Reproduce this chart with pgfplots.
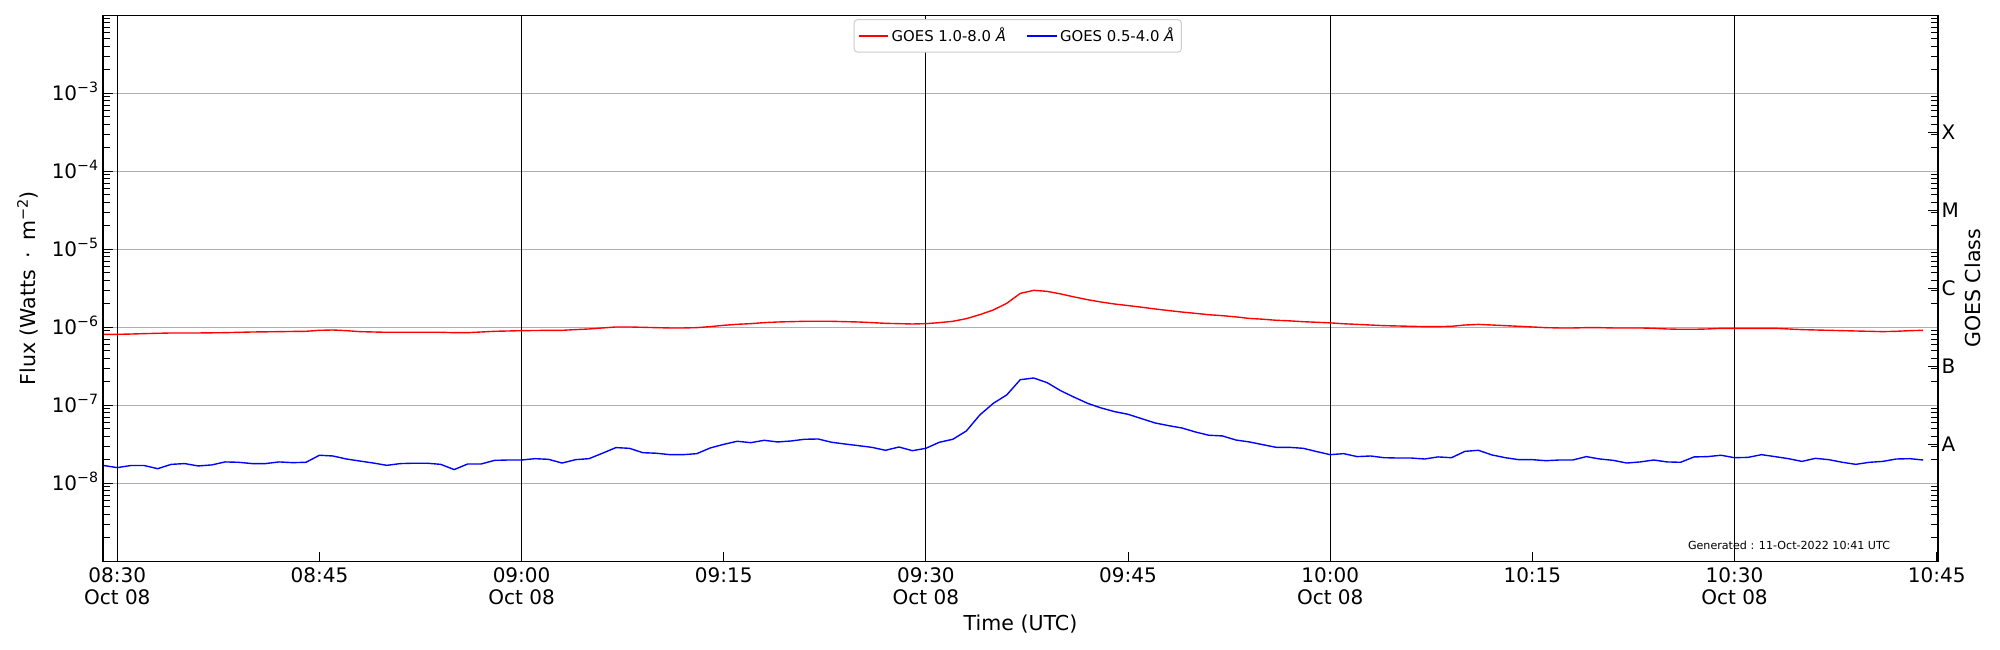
\documentclass[border=0pt]{standalone}
\usepackage{fontspec}
\setmainfont{DejaVu Sans}
\usepackage{pgfplots}
\pgfplotsset{compat=1.18}
\usepackage{pgfplotstable}

\pgfplotstableread{
t long short
-1 8.13e-7 1.69e-8
0 8.13e-7 1.59e-8
1 8.20e-7 1.69e-8
2 8.30e-7 1.69e-8
3 8.38e-7 1.54e-8
4 8.46e-7 1.75e-8
5 8.46e-7 1.79e-8
6 8.46e-7 1.67e-8
7 8.50e-7 1.72e-8
8 8.54e-7 1.88e-8
9 8.62e-7 1.86e-8
10 8.71e-7 1.79e-8
11 8.75e-7 1.79e-8
12 8.80e-7 1.88e-8
13 8.85e-7 1.84e-8
14 8.89e-7 1.86e-8
15 9.15e-7 2.29e-8
16 9.24e-7 2.24e-8
17 9.06e-7 2.05e-8
18 8.80e-7 1.93e-8
19 8.71e-7 1.82e-8
20 8.63e-7 1.70e-8
21 8.63e-7 1.79e-8
22 8.63e-7 1.81e-8
23 8.63e-7 1.81e-8
24 8.63e-7 1.75e-8
25 8.54e-7 1.50e-8
26 8.54e-7 1.77e-8
27 8.71e-7 1.77e-8
28 8.89e-7 1.97e-8
29 8.97e-7 1.99e-8
30 9.06e-7 1.99e-8
31 9.10e-7 2.07e-8
32 9.15e-7 2.03e-8
33 9.15e-7 1.82e-8
34 9.34e-7 2.01e-8
35 9.52e-7 2.07e-8
36 9.81e-7 2.43e-8
37 1.010e-6 2.87e-8
38 1.010e-6 2.81e-8
39 1.000e-6 2.47e-8
40 9.90e-7 2.43e-8
41 9.81e-7 2.33e-8
42 9.81e-7 2.33e-8
43 9.90e-7 2.40e-8
44 1.020e-6 2.84e-8
45 1.061e-6 3.16e-8
46 1.093e-6 3.46e-8
47 1.114e-6 3.32e-8
48 1.148e-6 3.56e-8
49 1.170e-6 3.39e-8
50 1.182e-6 3.49e-8
51 1.194e-6 3.67e-8
52 1.194e-6 3.70e-8
53 1.194e-6 3.36e-8
54 1.182e-6 3.19e-8
55 1.170e-6 3.04e-8
56 1.148e-6 2.89e-8
57 1.125e-6 2.65e-8
58 1.114e-6 2.92e-8
59 1.103e-6 2.62e-8
60 1.114e-6 2.81e-8
61 1.148e-6 3.36e-8
62 1.194e-6 3.67e-8
63 1.291e-6 4.69e-8
64 1.453e-6 7.52e-8
65 1.668e-6 1.06e-7
66 2.031e-6 1.36e-7
67 2.72e-6 2.13e-7
68 2.98e-6 2.24e-7
69 2.89e-6 1.95e-7
70 2.68e-6 1.54e-7
71 2.45e-6 1.27e-7
72 2.26e-6 1.06e-7
73 2.11e-6 9.25e-8
74 1.99e-6 8.30e-8
75 1.90e-6 7.67e-8
76 1.81e-6 6.75e-8
77 1.72e-6 5.94e-8
78 1.64e-6 5.49e-8
79 1.57e-6 5.12e-8
80 1.51e-6 4.55e-8
81 1.45e-6 4.13e-8
82 1.41e-6 4.05e-8
83 1.36e-6 3.59e-8
84 1.30e-6 3.39e-8
85 1.27e-6 3.13e-8
86 1.23e-6 2.89e-8
87 1.21e-6 2.89e-8
88 1.18e-6 2.81e-8
89 1.16e-6 2.55e-8
90 1.14e-6 2.33e-8
91 1.11e-6 2.40e-8
92 1.09e-6 2.20e-8
93 1.07e-6 2.24e-8
94 1.05e-6 2.13e-8
95 1.04e-6 2.11e-8
96 1.03e-6 2.11e-8
97 1.02e-6 2.05e-8
98 1.02e-6 2.18e-8
99 1.03e-6 2.13e-8
100 1.07e-6 2.57e-8
101 1.09e-6 2.65e-8
102 1.07e-6 2.31e-8
103 1.05e-6 2.13e-8
104 1.03e-6 2.01e-8
105 1.01e-6 2.01e-8
106 9.90e-7 1.95e-8
107 9.81e-7 1.99e-8
108 9.81e-7 1.99e-8
109 9.90e-7 2.20e-8
110 9.90e-7 2.05e-8
111 9.81e-7 1.97e-8
112 9.81e-7 1.82e-8
113 9.81e-7 1.88e-8
114 9.71e-7 1.99e-8
115 9.52e-7 1.88e-8
116 9.43e-7 1.86e-8
117 9.43e-7 2.18e-8
118 9.52e-7 2.20e-8
119 9.71e-7 2.29e-8
120 9.71e-7 2.13e-8
121 9.71e-7 2.15e-8
122 9.71e-7 2.33e-8
123 9.71e-7 2.20e-8
124 9.52e-7 2.07e-8
125 9.34e-7 1.91e-8
126 9.24e-7 2.09e-8
127 9.15e-7 2.01e-8
128 9.06e-7 1.86e-8
129 8.97e-7 1.75e-8
130 8.89e-7 1.86e-8
131 8.80e-7 1.91e-8
132 8.89e-7 2.05e-8
133 9.06e-7 2.07e-8
134 9.15e-7 1.99e-8
}\goesdata

\newcommand\expo[1]{10\smash{\raisebox{5.5pt}{\fontsize{10.2}{10}\selectfont −#1}}}
\newcommand\tickfont{\fontsize{14.4}{16.2}\selectfont}
\newcommand\labelfont{\fontsize{14.8}{17}\selectfont}

\begin{document}
\begin{tikzpicture}
\path[use as bounding box] (-74.16pt,-63.86pt) rectangle (1365.84pt,404.14pt);
\begin{axis}[
  at={(0,0)}, anchor=south west, scale only axis,
  width=1321.2pt, height=393.12pt,
  ymode=log, ymin=1e-9, ymax=1e-2, xmin=-1.06, xmax=135.1,
  tick align=inside, major tick length=7pt, minor tick length=5pt,
  every tick/.style={black, line width=0.8pt},
  tick label style={font=\tickfont},
  minor ytick={2e-9,3e-9,4e-9,5e-9,6e-9,7e-9,8e-9,9e-9,
    2e-8,3e-8,4e-8,5e-8,6e-8,7e-8,8e-8,9e-8,
    2e-7,3e-7,4e-7,5e-7,6e-7,7e-7,8e-7,9e-7,
    2e-6,3e-6,4e-6,5e-6,6e-6,7e-6,8e-6,9e-6,
    2e-5,3e-5,4e-5,5e-5,6e-5,7e-5,8e-5,9e-5,
    2e-4,3e-4,4e-4,5e-4,6e-4,7e-4,8e-4,9e-4,
    2e-3,3e-3,4e-3,5e-3,6e-3,7e-3,8e-3,9e-3},
  axis line style={line width=0.9pt},
  xtick={0,15,30,45,60,75,90,105,120,135},
  xticklabels={{08:30\\Oct 08},{08:45},{09:00\\Oct 08},{09:15},{09:30\\Oct 08},{09:45},{10:00\\Oct 08},{10:15},{10:30\\Oct 08},{10:45}},
  xticklabel style={align=center, anchor=north, yshift=-1pt},
  xtick pos=bottom,
  extra x ticks={0,30,60,90,120},
  extra x tick labels={},
  extra x tick style={grid=major, major grid style={black, line width=0.8pt}},
  ytick={1e-8,1e-7,1e-6,1e-5,1e-4,1e-3},
  yticklabels={\expo{8},\expo{7},\expo{6},\expo{5},\expo{4},\expo{3}},
  ytick pos=left,
  ymajorgrids,
  major grid style={color=black!31, line width=0.75pt},
  xlabel={Time (UTC)},
  ylabel={Flux (Watts \hspace{3.5pt}·\hspace{3.5pt} m\smash{\raisebox{5.5pt}{\fontsize{10.4}{10}\selectfont −2}})},
  every axis x label/.style={at={(axis description cs:0.5,-0.1148)}, anchor=center, font=\labelfont},
  every axis y label/.style={at={(axis description cs:-0.0403,0.5)}, anchor=center, rotate=90, font=\labelfont},
  legend style={at={(0.5,0.993)}, anchor=north, xshift=-2pt, legend columns=2,
    draw=black!20, line width=0.7pt, rounded corners=2.5pt, fill=white,
    font=\fontsize{10.7}{12.5}\selectfont, inner xsep=3pt, inner ysep=4pt,
    /tikz/every even column/.append style={column sep=13pt}},
  legend image code/.code={\draw[#1] (0pt,0pt) -- (21pt,0pt);},
]
\addplot[color=red, line width=1pt] table[x=t, y=long] {\goesdata};
\addlegendentry{GOES 1.0-8.0 \textit{Å}}
\addplot[color=blue, line width=1pt] table[x=t, y=short] {\goesdata};
\addlegendentry{GOES 0.5-4.0 \textit{Å}}
\node[anchor=east, font=\fontsize{8}{10}\selectfont, inner sep=0pt] at (rel axis cs:0.974,0.030) {Generated : 11-Oct-2022 10:41 UTC};
\end{axis}
\begin{axis}[
  at={(0,0)}, anchor=south west, scale only axis,
  width=1321.2pt, height=393.12pt,
  ymode=log, ymin=1e-9, ymax=1e-2, xmin=-1.06, xmax=135.1,
  tick align=inside, major tick length=7pt, minor tick length=5pt,
  every tick/.style={black, line width=0.8pt},
  tick label style={font=\tickfont},
  minor ytick={2e-9,3e-9,4e-9,5e-9,6e-9,7e-9,8e-9,9e-9,
    2e-8,3e-8,4e-8,5e-8,6e-8,7e-8,8e-8,9e-8,
    2e-7,3e-7,4e-7,5e-7,6e-7,7e-7,8e-7,9e-7,
    2e-6,3e-6,4e-6,5e-6,6e-6,7e-6,8e-6,9e-6,
    2e-5,3e-5,4e-5,5e-5,6e-5,7e-5,8e-5,9e-5,
    2e-4,3e-4,4e-4,5e-4,6e-4,7e-4,8e-4,9e-4,
    2e-3,3e-3,4e-3,5e-3,6e-3,7e-3,8e-3,9e-3},
  axis x line=none,
  axis y line*=right,
  y axis line style={draw=none},
  ytick={3.1623e-8,3.1623e-7,3.1623e-6,3.1623e-5,3.1623e-4},
  yticklabels={A,B,C,M,X},
  yticklabel style={anchor=west, xshift=-1pt},
  ylabel={GOES Class},
  every axis y label/.style={at={(axis description cs:1.0190,0.5)}, anchor=center, rotate=90, font=\labelfont},
]
\addplot[draw=none] coordinates {(0,1e-6)};
\end{axis}
\end{tikzpicture}
\end{document}
